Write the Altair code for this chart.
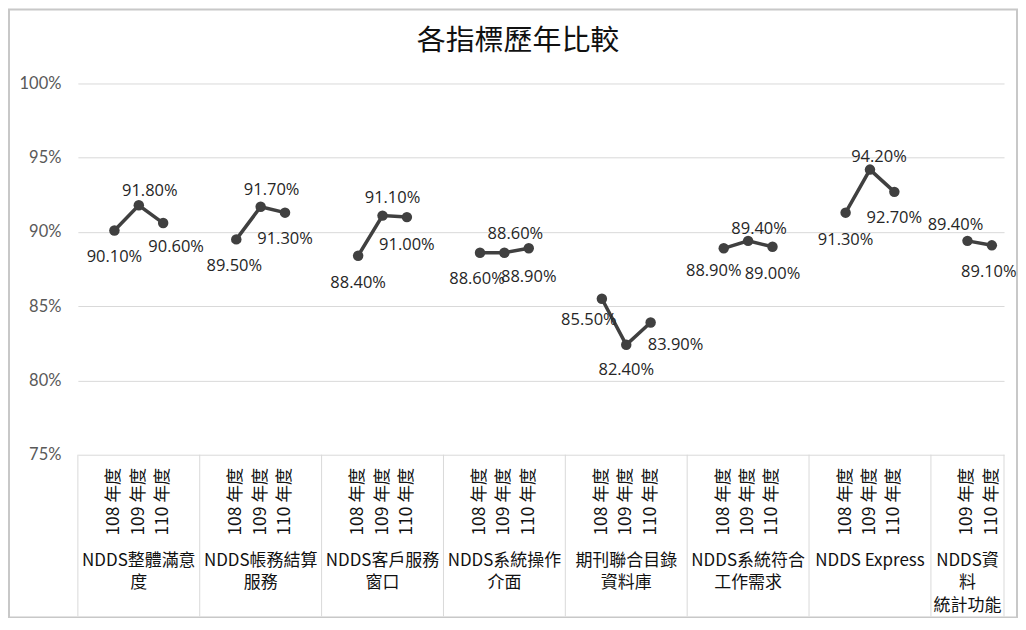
import altair as alt
import pandas as pd

title = "各指標歷年比較"
groups = ["NDDS整體滿意\n度", "NDDS帳務結算\n服務", "NDDS客戶服務\n窗口", "NDDS系統操作\n介面",
          "期刊聯合目錄\n資料庫", "NDDS系統符合\n工作需求", "NDDS Express", "NDDS資\n料\n統計功能"]
years = ["108 年度", "109 年度", "110 年度"]
v108 = [90.1, 89.5, 88.4, 88.6, 85.5, 88.9, 91.3, None]
v109 = [91.8, 91.7, 91.1, 88.6, 82.4, 89.4, 94.2, 89.4]
v110 = [90.6, 91.3, 91.0, 88.9, 83.9, 89.0, 92.7, 89.1]
y_ticks = [75, 80, 85, 90, 95, 100]

# blank category slots around each group (the last group has no trailing blank)
lead_blank = [1, 1, 1, 1, 1, 1, 1, 1]
trail_blank = [1, 1, 1, 1, 1, 1, 1, 0]

# data-label placement (style), in point order
label_dx = [0, 11, 13,  -2, 11, 0,  0, 10, 0,  -3, 11, 0,  -13, 0, 25,  -10, 11, 0,  0, 9, 0,  -12, -3]
label_dy = [27, -14, 24,  27, -17, 26,  27, -18, 28,  26, -19, 29,  21, 25, 23,  23, -12, 27,  27, -13, 26,  -16, 27]

W, H = 928, 372
INK = "#404040"
GRID = "#d9d9d9"
CJK = "Noto Sans CJK TC"

series = [v108, v109, v110]
pts, yrs_rows, grp_rows, bounds = [], [], [], []
cursor = 0
for gi, g in enumerate(groups):
    start = cursor
    bounds.append(start)
    slot = start + lead_blank[gi]
    for yi, yname in enumerate(years):
        v = series[yi][gi]
        if v is None:
            continue
        pts.append({"pos": slot + 0.5, "val": v, "grp": gi, "year": yname,
                    "label": f"{v:.2f}%"})
        yrs_rows.append({"pos": slot + 0.5, "year": yname})
        slot += 1
    cursor = slot + trail_blank[gi]
    grp_rows.append({"pos": (start + cursor) / 2, "name": g})
bounds.append(cursor)
total = cursor

df = pd.DataFrame(pts)
df["dx"] = label_dx[: len(df)]
df["dy"] = label_dy[: len(df)]
df_years = pd.DataFrame(yrs_rows)
df_groups = pd.DataFrame(grp_rows)
df_bounds = pd.DataFrame({"pos": bounds})

xs = alt.Scale(domain=[0, total], nice=False, zero=False)
ys = alt.Scale(domain=[75, 100], nice=False, zero=False)

X = alt.X("pos:Q", scale=xs, axis=None)
Y = alt.Y("val:Q", scale=ys,
          axis=alt.Axis(values=y_ticks, labelExpr="datum.value + '%'", title=None,
                        domain=False, ticks=False, grid=True, gridColor=GRID, gridWidth=1,
                        labelFont="Lato", labelFontSize=16.5, labelColor="#595959",
                        labelPadding=17))

border = alt.Chart(pd.DataFrame({"a": [0]})).mark_rect(
    fill=None, stroke="#c8c8c8", strokeWidth=2
).encode(x=alt.value(-69), x2=alt.value(W + 13), y=alt.value(-74), y2=alt.value(H + 163))

title_text = alt.Chart(pd.DataFrame({"t": [title]})).mark_text(
    font=CJK, fontSize=29, color="#111111", align="center", baseline="middle"
).encode(text="t:N", x=alt.value(W / 2 - 23), y=alt.value(-43))

seps = alt.Chart(df_bounds).mark_rule(color=GRID, strokeWidth=1).encode(
    x=alt.X("pos:Q", scale=xs, axis=None), y=alt.value(H), y2=alt.value(H + 162))

lines = alt.Chart(df).mark_line(color=INK, strokeWidth=3.5).encode(
    x=X, y=Y, detail="grp:N")

points = alt.Chart(df).mark_circle(color=INK, size=110, opacity=1).encode(x=X, y=Y)

label_layers = []
for (ddx, ddy), sub in df.groupby(["dx", "dy"]):
    label_layers.append(
        alt.Chart(sub).mark_text(font="Open Sans", fontSize=16.5, color="#262626",
                                 baseline="middle", align="center",
                                 dx=int(ddx), dy=int(ddy)).encode(x=X, y=Y, text="label:N"))

year_text = alt.Chart(df_years).mark_text(font=CJK, fontSize=17.5, color="#111111", angle=270,
                                          align="right", baseline="middle").encode(
    x=alt.X("pos:Q", scale=xs, axis=None), y=alt.value(H + 13), text="year:N")

group_text = alt.Chart(df_groups).mark_text(font=CJK, fontSize=17, color="#111111",
                                            align="center", baseline="top", lineBreak="\n",
                                            lineHeight=23).encode(
    x=alt.X("pos:Q", scale=xs, axis=None), y=alt.value(H + 98), text="name:N")

chart = alt.layer(border, title_text, seps, lines, points, *label_layers, year_text, group_text).properties(
    width=W, height=H,
    background="white",
    autosize=alt.AutoSizeParams(type="none"),
    padding={"left": 70, "top": 75, "right": 14, "bottom": 163},
).configure_view(stroke="transparent", strokeWidth=0)

chart.save("out.html", embed_options={"renderer": "svg", "actions": False})
